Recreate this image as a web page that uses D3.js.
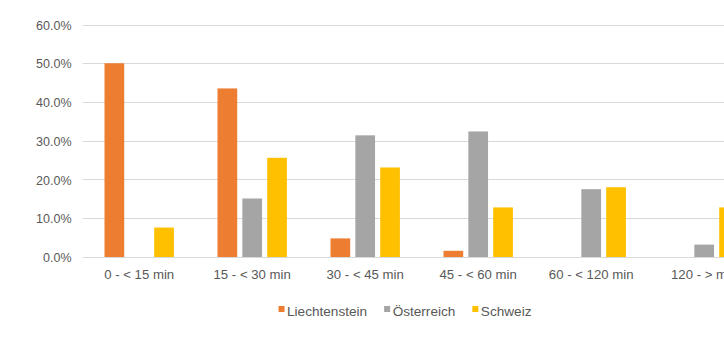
<!DOCTYPE html>
<html>
<head>
<meta charset="utf-8">
<script src="https://cdn.jsdelivr.net/npm/d3@7"></script>
<style>
  html, body { margin: 0; padding: 0; background: #fff; }
  svg { display: block; }
  text { font-family: "Liberation Sans", Arial, sans-serif; fill: #595959; }
</style>
</head>
<body>
<svg id="chart" width="724" height="361"></svg>
<script>
// Commute time bands and share of commuters per country
const categories = ["0 - < 15 min", "15 - < 30 min", "30 - < 45 min", "45 - < 60 min", "60 - < 120 min", "120 - > min"];
const seriesNames = ["Liechtenstein", "Österreich", "Schweiz"];
const liechtenstein = [0.500, 0.435, 0.048, 0.016, 0, 0];
const oesterreich   = [0, 0.151, 0.314, 0.324, 0.175, 0.032];
const schweiz       = [0.076, 0.256, 0.231, 0.128, 0.180, 0.128];
const yTicks = [0, 0.1, 0.2, 0.3, 0.4, 0.5, 0.6];
const colors = ["#ED7D31", "#A5A5A5", "#FFC000"];

const seriesValues = [liechtenstein, oesterreich, schweiz];
const svg = d3.select("#chart");

const plotLeft = 82.7, step = 113;
const x0 = d3.scaleBand().domain(categories)
  .range([plotLeft, plotLeft + step * categories.length]).padding(0);
const x1 = d3.scaleBand().domain(seriesNames)
  .range([-34.7, 34.7]).paddingInner(0.207).paddingOuter(0);
const y = d3.scaleLinear().domain([0, 0.6]).range([257, 24.5]);

// horizontal gridlines
svg.append("g").selectAll("line").data(yTicks).join("line")
  .attr("x1", plotLeft).attr("x2", 724)
  .attr("y1", d => Math.round(y(d)) + 0.5).attr("y2", d => Math.round(y(d)) + 0.5)
  .attr("stroke", "#D9D9D9").attr("stroke-width", 1);

// y axis labels
const yAxis = d3.axisLeft(y).tickValues(yTicks).tickFormat(d3.format(".1%")).tickSize(0).tickPadding(0);
const gy = svg.append("g").attr("transform", "translate(71.5,0)").call(yAxis);
gy.select(".domain").remove();
gy.selectAll("text").style("font-family", "Liberation Sans, Arial, sans-serif")
  .style("font-size", "12.5px").attr("fill", "#595959").attr("dy", "0.36em");

// bars
const rows = [];
categories.forEach((c, i) => seriesNames.forEach((s, j) => {
  rows.push({ cat: c, series: s, value: seriesValues[j][i], color: colors[j] });
}));
svg.append("g").selectAll("rect").data(rows.filter(d => d.value > 0)).join("rect")
  .attr("x", d => x0(d.cat) + x0.bandwidth() / 2 + x1(d.series))
  .attr("width", x1.bandwidth())
  .attr("y", d => y(d.value))
  .attr("height", d => y(0) - y(d.value))
  .attr("fill", d => d.color);

// category axis
const xAxis = d3.axisBottom(x0).tickSize(0).tickPadding(0);
const gx = svg.append("g").attr("transform", "translate(0,269.5)").call(xAxis);
gx.select(".domain").remove();
gx.selectAll("text").style("font-family", "Liberation Sans, Arial, sans-serif")
  .style("font-size", "13.2px").attr("fill", "#595959").attr("dy", "0.71em");

// legend
const legend = svg.append("g");
const items = legend.selectAll("g").data(seriesNames).join("g");
items.append("rect").attr("width", 6).attr("height", 6).attr("y", -10)
  .attr("fill", (d, i) => colors[i]);
items.append("text").attr("x", 8.5).attr("y", 0).text(d => d)
  .style("font-size", "13.6px");
let cx = 0;
const gaps = 17;
items.each(function () {
  const g = d3.select(this);
  const w = 8.5 + g.select("text").node().getComputedTextLength();
  g.attr("transform", `translate(${cx},0)`);
  cx += w + gaps;
});
const totalW = cx - gaps;
legend.attr("transform", `translate(${405 - totalW / 2},316)`);
</script>
</body>
</html>
